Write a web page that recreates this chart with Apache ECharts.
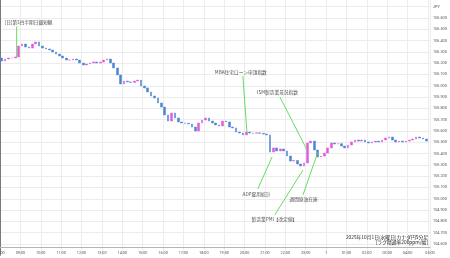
<!DOCTYPE html>
<html><head><meta charset="utf-8">
<script src="https://cdn.jsdelivr.net/npm/echarts@6/dist/echarts.min.js"></script>
<style>html,body{margin:0;padding:0;background:#fff}#c{width:450px;height:258px}</style>
</head><body><div id="c"></div>
<script>
// 10-minute closes starting 08:00 (minutes from 08:00 = index*10)
const startOpen = 106.246;
const closes = [
 106.219,106.237,106.246,106.246,106.255,106.352,106.370,106.343,106.334,106.370,
 106.388,106.352,106.334,106.326,106.317,106.299,106.281,106.264,106.246,106.228,
 106.228,106.237,106.228,106.202,106.184,106.193,106.202,106.211,106.202,106.211,
 106.228,106.237,106.202,106.158,106.096,106.016,106.042,106.034,106.030,106.042,
 106.051,105.998,105.981,105.945,105.910,105.892,105.848,105.812,105.742,105.688,
 105.759,105.715,105.680,105.671,105.668,105.662,105.635,105.600,105.671,105.697,
 105.715,105.688,105.671,105.653,105.644,105.688,105.680,105.635,105.627,105.591,
 105.582,105.565,105.591,105.582,105.580,105.584,105.580,105.573,105.565,105.414,
 105.450,105.423,105.441,105.423,105.379,105.334,105.340,105.308,105.290,105.317,
 105.494,105.511,105.432,105.370,105.378,105.405,105.450,105.494,105.485,105.488,
 105.467,105.450,105.476,105.503,105.520,105.511,105.520,105.503,105.494,105.503,
 105.511,105.503,105.520,105.538,105.547,105.520,105.503,105.511,105.503,105.511,
 105.520,105.529,105.547,105.538,105.529,105.511
];
const barMinutes = 10;
const startHour = 8;
const axisMin = 104.5, axisMax = 106.8, axisStep = 0.1;
const xMaxMinutes = 1266;

// event annotations: [minutes from 08:00, price]
const annotationText = ['[日]第3四半期日銀短観','MBA住宅ローン申請指数','ISM製造業景況指数','ADP雇用統計','週間原油在庫','製造業PMI【改定値】'];
const annotationFrom = [[49,106.255],[727,105.591],[904,105.432],[801,105.370],[936,105.414],[892,105.255]];
const annotationTo   = [[49,106.525],[715,106.087],[824,105.901],[759,105.087],[892,105.034],[809,104.857]];
const annotationLabel= [[84,106.560],[709,106.120],[817,105.941],[755,105.043],[894,104.998],[808,104.821]];

const footerLines = ['2025年10月1日(水曜日)カナダ円5分足','[ラグ精通率200ppm/幅]'];

// build candle data [x, open, close, low, high]
const candles = closes.map((c, i) => {
  const o = i === 0 ? startOpen : closes[i - 1];
  return [i * barMinutes + barMinutes / 2, o, c, Math.min(o, c), Math.max(o, c)];
});

const nLines = Math.round((axisMax - axisMin) / axisStep) + 1;
const hLineColors = Array.from({length: nLines}, (_, i) => i === 0 ? 'rgba(0,0,0,0)' : '#ececec');

const cjk = '"Noto Sans CJK JP", "Noto Sans", sans-serif';

const series = [{
  type: 'candlestick',
  data: candles,
  barWidth: 2.2,
  itemStyle: { color: '#e25ade', color0: '#4d84d4', borderColor: '#e25ade', borderColor0: '#4d84d4', borderWidth: 0.5 },
  z: 3
}];
annotationText.forEach((t, i) => {
  series.push({
    type: 'line', data: [annotationFrom[i], annotationTo[i]], symbol: 'none', silent: true,
    lineStyle: { color: '#56d94f', width: 0.9 }, z: 4
  });
});
series.push({
  type: 'scatter', symbolSize: 0, silent: true, z: 5,
  data: annotationText.map((t, i) => ({ name: t, value: annotationLabel[i] })),
  label: { show: true, position: 'inside', formatter: '{b}', color: '#222', fontSize: 4.7, fontFamily: cjk }
});

const chart = echarts.init(document.getElementById('c'), null, { renderer: 'canvas' });
chart.setOption({
  animation: false,
  backgroundColor: '#fff',
  grid: { left: 0, right: 20, top: -4.6, bottom: 2.7, containLabel: false, outerBoundsMode: 'none' },
  xAxis: {
    type: 'value', min: 0, max: xMaxMinutes, interval: 60, offset: -7.8,
    axisLine: { show: true, lineStyle: { color: '#b5b5b5', width: 1 } },
    axisTick: { show: false },
    splitLine: { show: true, lineStyle: { color: '#ececec', width: 1 } },
    axisLabel: {
      margin: 3.5, fontSize: 3.8, color: '#555', fontFamily: 'Roboto, sans-serif',
      showMinLabel: true, showMaxLabel: true, alignMinLabel: 'center', alignMaxLabel: 'center',
      formatter: v => { const h = (startHour + Math.round(v / 60)) % 24; return h === 0 ? '1' : String(h).padStart(2, '0') + ':00'; }
    }
  },
  yAxis: {
    type: 'value', position: 'right', min: axisMin, max: axisMax, interval: axisStep, scale: true,
    axisLine: { show: true, lineStyle: { color: '#7a7a7a', width: 1 } },
    axisTick: { show: false },
    splitLine: { show: true, lineStyle: { color: hLineColors, width: 1 } },
    axisLabel: {
      margin: 3, fontSize: 3.8, color: '#555', fontFamily: 'Roboto, sans-serif',
      formatter: v => {
        if (v > 106.75 || v < 104.55) return '';
        if (Math.abs(v - 106.7) < 1e-6) return 'JPY';
        return v.toFixed(3);
      }
    }
  },
  graphic: footerLines.map((t, i) => ({
    type: 'text', x: 428, y: 237.5 + i * 5,
    style: { text: t, align: 'right', verticalAlign: 'middle', fontSize: 4.8, fontFamily: cjk, fill: '#222' },
    z: 10
  })),
  series
});
</script></body></html>
